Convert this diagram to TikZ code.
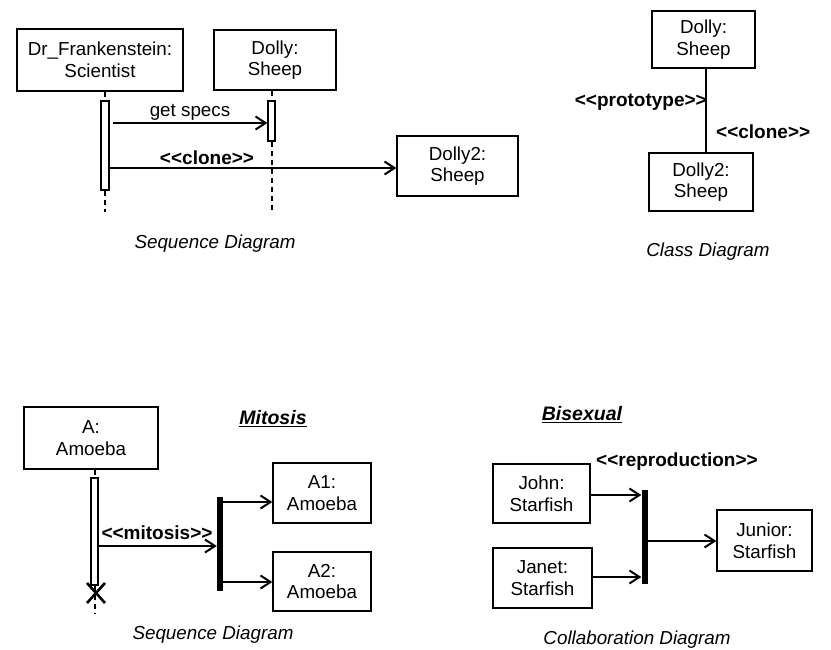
\documentclass[tikz,border=0pt]{standalone}
\usepackage{fontspec}
\setmainfont{Liberation Sans}
\usetikzlibrary{arrows.meta}
\newcommand{\objfont}{\fontsize{18.8}{21.6}\selectfont}
\newcommand{\stereofont}{\fontsize{19}{22}\selectfont\bfseries}
\newcommand{\capfont}{\fontsize{18.8}{22}\selectfont\itshape}
\newcommand{\titlefont}{\fontsize{19.5}{22}\selectfont\bfseries\itshape}
% guillemet-free stereotype brackets
\newcommand{\sopen}{<\kern0pt<}
\newcommand{\sclose}{>\kern0pt>}
\tikzset{
  obj/.style={draw, line width=1.3pt, inner sep=0pt, align=center, font=\objfont},
  actbox/.style={draw, fill=white, line width=1.2pt, inner sep=0pt},
  life/.style={line width=2pt, dash pattern=on 5pt off 4pt},
  msg/.style={line width=2pt, -{Straight Barb[length=10pt,width=13pt]}},
  syncbar/.style={fill=black, draw=none, inner sep=0pt},
  stereo/.style={font=\stereofont, inner sep=0pt},
  caption/.style={font=\capfont, inner sep=0pt},
  heading/.style={font=\titlefont, inner sep=0pt}
}
\begin{document}
\begin{tikzpicture}[x=1pt, y=-1pt]
\useasboundingbox (0,0) rectangle (831,649);

% ---------- cloning: sequence diagram ----------
\node[obj, minimum width=166pt, minimum height=62pt] (dr) at (100,60) {Dr\_Frankenstein:\\Scientist};
\node[obj, minimum width=122pt, minimum height=60pt] (dolly) at (275,60) {Dolly:\\Sheep};
\node[obj, minimum width=121pt, minimum height=60pt] (dolly2) at (457.5,166) {Dolly2:\\Sheep};

\node[actbox, minimum width=8pt, minimum height=89pt] (dract) at (105,145.5) {};
\node[actbox, minimum width=7pt, minimum height=40pt] (dolact) at (271.5,121) {};

\coordinate (drend) at (105,212);
\coordinate (dolend) at (271.5,212);
\draw[life] (dract.north |- dr.south) -- (dract.north);
\draw[life] (dract.south) -- (drend);
\draw[life] (dolact.north |- dolly.south) -- (dolact.north);
\draw[life] (dolact.south) -- (dolend);

\draw[msg] ([xshift=3pt]dract.east |- 0,123) -- (dolact.west |- 0,123)
  node[midway, above=2pt, font=\objfont, inner sep=0pt] (getspecs) {get specs};
\draw[msg] (dract.east |- 0,168) -- (dolly2.west |- 0,168);
\node[stereo] (clonemsg) at (207,158) {\sopen clone\sclose};

\node[caption] (seqcap1) at (215,244) {Sequence Diagram};

% ---------- cloning: class diagram ----------
\node[obj, minimum width=103pt, minimum height=57pt] (cdolly) at (703.5,39.5) {Dolly:\\Sheep};
\node[obj, minimum width=104pt, minimum height=58pt] (cdolly2) at (701,182) {Dolly2:\\Sheep};
\draw[line width=2pt] ([xshift=2.5pt]cdolly.south) -- ([xshift=5pt]cdolly2.north);
\node[stereo, anchor=east] (proto) at (707,102) {\sopen prototype\sclose};
\node[stereo, anchor=west] (cclone) at (716,132) {\sopen clone\sclose};
\node[caption] (classcap) at (708,252) {Class Diagram};

% ---------- mitosis ----------
\node[heading] (mitosis) at (273,419) {\underline{Mitosis}};
\node[obj, minimum width=134pt, minimum height=62pt] (amoeba) at (91,438) {A:\\Amoeba};
\node[actbox, minimum width=7pt, minimum height=107pt] (aact) at (94.5,531.5) {};
\coordinate (aend) at (94.5,613);
\draw[life] (aact.north |- amoeba.south) -- (aact.north);
\draw[life] (aact.south) -- (aend);
\coordinate (xmark) at (96,593);
\draw[line width=2.6pt] ([shift={(-9,-10)}]xmark) -- ([shift={(9,10)}]xmark)
                        ([shift={(9,-10)}]xmark) -- ([shift={(-9,10)}]xmark);

\node[syncbar, minimum width=6pt, minimum height=94pt] (mbar) at (220,544) {};
\node[obj, minimum width=98pt, minimum height=60pt] (a1) at (322,493) {A1:\\Amoeba};
\node[obj, minimum width=98pt, minimum height=59pt] (a2) at (322,581.5) {A2:\\Amoeba};

\draw[msg] (aact.east |- 0,546) -- (mbar.west |- 0,546);
\node[stereo] (mitmsg) at (157,533) {\sopen mitosis\sclose};
\draw[msg] (mbar.east |- 0,502) -- (a1.west |- 0,502);
\draw[msg] (mbar.east |- 0,582) -- (a2.west |- 0,582);
\node[caption] (seqcap2) at (213,635) {Sequence Diagram};

% ---------- bisexual reproduction ----------
\node[heading] (bisexual) at (582,415) {\underline{Bisexual}};
\node[stereo] (repro) at (677,462) {\sopen reproduction\sclose};
\node[obj, minimum width=97pt, minimum height=59pt] (john) at (541.5,493.5) {John:\\Starfish};
\node[obj, minimum width=99pt, minimum height=60pt] (janet) at (542.5,578) {Janet:\\Starfish};
\node[syncbar, minimum width=6pt, minimum height=94pt] (rbar) at (644.5,537) {};
\node[obj, minimum width=95pt, minimum height=61pt] (junior) at (764.5,540.5) {Junior:\\Starfish};

\draw[msg] (john.east |- 0,495) -- (rbar.west |- 0,495);
\draw[msg] (janet.east |- 0,577) -- (rbar.west |- 0,577);
\draw[msg] (rbar.east |- 0,541) -- (junior.west |- 0,541);
\node[caption] (collabcap) at (637,640) {Collaboration Diagram};

\end{tikzpicture}
\end{document}
